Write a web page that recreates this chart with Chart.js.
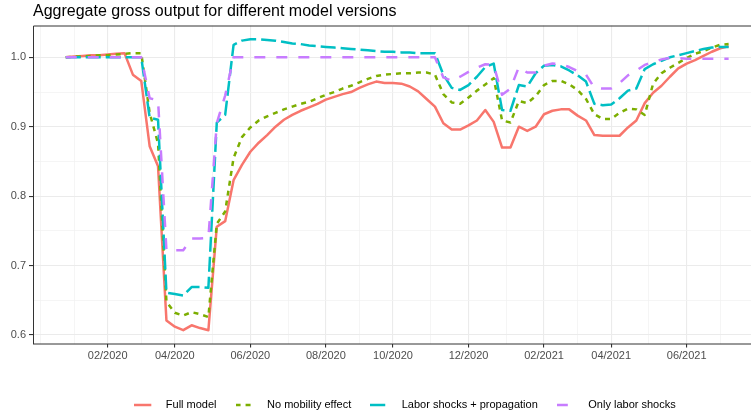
<!DOCTYPE html>
<html><head><meta charset="utf-8">
<script src="https://cdn.jsdelivr.net/npm/chart.js@4.4.1/dist/chart.umd.min.js"></script>
<style>html,body{margin:0;padding:0;background:#fff;overflow:hidden}#wrap{width:751px;height:417px;position:relative}</style>
</head><body><div id="wrap"><canvas id="c"></canvas></div>
<script>
// Weekly observation dates
const weeks = [
 '2020-01-02','2020-01-09','2020-01-16','2020-01-23','2020-01-30',
 '2020-02-06','2020-02-13','2020-02-20','2020-02-27','2020-03-05','2020-03-12','2020-03-19','2020-03-26',
 '2020-04-02','2020-04-09','2020-04-16','2020-04-23','2020-04-30','2020-05-07','2020-05-14','2020-05-21','2020-05-28',
 '2020-06-04','2020-06-11','2020-06-18','2020-06-25','2020-07-02','2020-07-09','2020-07-16','2020-07-23','2020-07-30',
 '2020-08-06','2020-08-13','2020-08-20','2020-08-27','2020-09-03','2020-09-10','2020-09-17','2020-09-24',
 '2020-10-01','2020-10-08','2020-10-15','2020-10-22','2020-10-29','2020-11-05','2020-11-12','2020-11-19','2020-11-26',
 '2020-12-03','2020-12-10','2020-12-17','2020-12-24','2020-12-31','2021-01-07','2021-01-14','2021-01-21','2021-01-28',
 '2021-02-04','2021-02-11','2021-02-18','2021-02-25','2021-03-04','2021-03-11','2021-03-18','2021-03-25',
 '2021-04-01','2021-04-08','2021-04-15','2021-04-22','2021-04-29','2021-05-06','2021-05-13','2021-05-20','2021-05-27',
 '2021-06-03','2021-06-10','2021-06-17','2021-06-24','2021-07-01','2021-07-08'
];
const fullModel = [
 1.000,1.001,1.002,1.003,1.003,
 1.004,1.005,1.006,0.975,0.966, 0.872,0.843,0.621,0.612,0.607,
 0.614,0.610,0.607,0.756,0.764, 0.823,0.845,0.864,0.877,0.888,
 0.900,0.910,0.917,0.923,0.928, 0.933,0.939,0.943,0.947,0.950,
 0.956,0.961,0.965,0.963,0.963, 0.962,0.958,0.951,0.940,0.929,
 0.905,0.896,0.896,0.902,0.909, 0.924,0.907,0.870,0.870,0.900,
 0.894,0.900,0.918,0.923,0.925, 0.925,0.916,0.909,0.888,0.887,
 0.887,0.887,0.899,0.909,0.934, 0.949,0.959,0.972,0.984,0.991,
 0.996,1.002,1.008,1.013,1.016
];
const noMobility = [
 1.000,1.001,1.001,1.002,1.003,
 1.003,1.004,1.005,1.006,1.006, 0.920,0.876,0.648,0.632,0.628,
 0.633,0.630,0.626,0.760,0.778, 0.855,0.885,0.899,0.909,0.915,
 0.920,0.925,0.929,0.933,0.936, 0.941,0.946,0.950,0.955,0.959,
 0.964,0.969,0.973,0.975,0.976, 0.977,0.977,0.978,0.978,0.975,
 0.947,0.935,0.933,0.942,0.952, 0.961,0.970,0.909,0.906,0.937,
 0.934,0.944,0.960,0.966,0.966, 0.961,0.953,0.940,0.918,0.911,
 0.911,0.920,0.926,0.925,0.917, 0.962,0.977,0.985,0.992,0.999,
 1.005,1.009,1.014,1.018,1.019
];
const laborProp = [
 1.000,1.000,1.000,1.000,1.000,
 1.000,1.000,1.000,1.000,1.000, 0.913,0.910,0.661,0.659,0.657,
 0.669,0.669,0.668,0.906,0.917, 1.018,1.024,1.026,1.026,1.025,
 1.024,1.022,1.020,1.019,1.017, 1.016,1.015,1.014,1.013,1.012,
 1.011,1.010,1.009,1.008,1.008, 1.007,1.007,1.006,1.006,1.006,
 0.975,0.956,0.953,0.960,0.972, 0.986,0.991,0.924,0.923,0.960,
 0.958,0.977,0.988,0.989,0.987, 0.981,0.974,0.965,0.933,0.931,
 0.932,0.941,0.952,0.955,0.983, 0.990,0.995,1.000,1.003,1.006,
 1.009,1.012,1.014,1.015,1.015
];
const onlyLabor = [
 1.000,1.000,1.000,1.000,1.000,
 1.000,1.000,1.000,1.000,1.000, 0.941,0.938,0.722,0.722,0.722,
 0.739,0.739,0.740,0.905,0.945, 1.000,1.000,1.000,1.000,1.000,
 1.000,1.000,1.000,1.000,1.000, 1.000,1.000,1.000,1.000,1.000,
 1.000,1.000,1.000,1.000,1.000, 1.000,1.000,1.000,1.000,1.000,
 0.971,0.966,0.972,0.979,0.985, 0.990,0.989,0.946,0.955,0.986,
 0.978,0.978,0.988,0.991,0.990, 0.986,0.980,0.975,0.956,0.955,
 0.955,0.963,0.974,0.981,0.989, 0.993,0.997,0.999,0.999,0.998,
 0.998,0.998,0.998,0.998,0.998
];
const seriesNames = ['Full model','No mobility effect','Labor shocks + propagation','Only labor shocks'];
const tickDates = ['2020-02-06','2020-04-02','2020-06-04','2020-08-06','2020-10-01','2020-12-03','2021-02-04','2021-04-01','2021-06-03'];
const tickLabels = ['02/2020','04/2020','06/2020','08/2020','10/2020','12/2020','02/2021','04/2021','06/2021'];
const yMajor = [0.6,0.7,0.8,0.9,1.0];
const yMinor = [0.65,0.75,0.85,0.95];

// ---- derived structures ----
const toPts = arr => arr.map((v,i)=>({x:i,y:v}));
const majorIdx = tickDates.map(d=>weeks.indexOf(d));
const labelMap = {}; majorIdx.forEach((ix,j)=>labelMap[ix]=tickLabels[j]);
const minorIdx = [];
const step0 = majorIdx[1]-majorIdx[0];
minorIdx.push(majorIdx[0]-step0, majorIdx[0]-step0/2);
for(let j=0;j<majorIdx.length-1;j++) minorIdx.push((majorIdx[j]+majorIdx[j+1])/2);
minorIdx.push(majorIdx[majorIdx.length-1]+4);
const isMajorX = v => labelMap[v]!==undefined;
const isMajorY = v => yMajor.some(m=>Math.abs(m-v)<1e-9);

const PXW = 8.391;            // px per week in the reference
const X_MIN = majorIdx[0] - (107.7-33)/PXW;
const X_MAX = majorIdx[0] + (751-107.7)/PXW;

const colors = ['#F8766D','#7CAE00','#00BFC4','#C77CFF'];
const dashes = [[],[5,5],[15,5],[11,11]];
const dataArrs = [fullModel,noMobility,laborProp,onlyLabor];

// legend key swatches (line sample + empty spacing, like ggplot keys)
function makeSwatch(color, dash){
  const cv = document.createElement('canvas'); cv.width = 26; cv.height = 6;
  const g = cv.getContext('2d');
  g.strokeStyle = color; g.lineWidth = 2.5; g.lineCap = 'butt'; g.setLineDash(dash);
  g.beginPath(); g.moveTo(0,3); g.lineTo(17,3); g.stroke();
  return cv;
}
const swatches = colors.map((c,i)=>makeSwatch(c,dashes[i]));

const LEGEND_DX = 29.5, LEGEND_DY = 3.5;
const framePlugin = {
  id:'frame',
  afterLayout(chart){
    const a = chart.chartArea;
    const t = chart.titleBlock;
    if(t){ const w=t.right-t.left; t.left=a.left; t.right=a.left+w; }
    const l = chart.legend;
    if(l){ l.left+=LEGEND_DX; l.right+=LEGEND_DX; l.top+=LEGEND_DY; l.bottom+=LEGEND_DY; }
  },
  afterDatasetsDraw(chart){
    const a = chart.chartArea, c = chart.ctx;
    c.save(); c.strokeStyle='#333333'; c.lineWidth=1;
    c.beginPath();
    c.moveTo(a.left+0.5, a.bottom+0.5); c.lineTo(a.left+0.5, a.top+0.5); c.lineTo(a.right+2, a.top+0.5);
    c.moveTo(a.left, a.bottom+0.5); c.lineTo(a.right+2, a.bottom+0.5);
    c.stroke(); c.restore();
  }
};

const FONT = '"Liberation Sans", Arial, sans-serif';
new Chart(document.getElementById('c'), {
  type:'line',
  data:{
    datasets: seriesNames.map((n,i)=>({
      label:n, data:toPts(dataArrs[i]), borderColor:colors[i], backgroundColor:colors[i],
      borderWidth:2.5, borderDash:dashes[i], borderCapStyle:'butt', borderJoinStyle:'round',
      pointRadius:0, tension:0, fill:false, order:4-i
    }))
  },
  options:{
    responsive:true, maintainAspectRatio:false, animation:false,
    devicePixelRatio:1,
    layout:{padding:0},
    plugins:{
      title:{display:true, text:'Aggregate gross output for different model versions', align:'start',
        color:'#000', font:{family:FONT, size:16, weight:'normal'},
        padding:{top:1.5,bottom:4.8}},
      legend:{position:'bottom', align:'center',
        labels:{usePointStyle:true, pointStyleWidth:26, boxHeight:11, padding:19,
          color:'#000', font:{family:FONT, size:11},
          generateLabels(chart){
            const items = Chart.defaults.plugins.legend.labels.generateLabels(chart);
            items.forEach(it=>{ it.pointStyle = swatches[it.datasetIndex]; });
            return items;
          },
          sort:(a,b)=>a.datasetIndex-b.datasetIndex}},
      tooltip:{enabled:false}
    },
    scales:{
      x:{type:'linear', min:X_MIN, max:X_MAX,
        afterBuildTicks(s){ s.ticks = majorIdx.concat(minorIdx).filter(v=>v>=X_MIN&&v<=X_MAX).sort((a,b)=>a-b).map(v=>({value:v})); },
        afterFit(s){ s.height = 33.5; },
        ticks:{autoSkip:false, maxRotation:0, padding:2, color:'#4D4D4D',
          font:{family:FONT, size:11},
          callback:(v)=> labelMap[v]!==undefined ? labelMap[v] : ''},
        grid:{color:c=> c.tick && isMajorX(c.tick.value) ? '#EBEBEB' : '#F2F2F2',
          lineWidth:c=> c.tick && isMajorX(c.tick.value) ? 1.1 : 0.8,
          tickColor:c=> c.tick && isMajorX(c.tick.value) ? '#333333' : 'rgba(0,0,0,0)',
          tickLength:4, drawTicks:true},
        border:{display:false}
      },
      y:{type:'linear', min:0.5878, max:1.0458,
        afterBuildTicks(s){ s.ticks = yMajor.concat(yMinor).sort((a,b)=>a-b).map(v=>({value:v})); },
        afterFit(s){ s.width = 33; },
        ticks:{padding:3, color:'#4D4D4D', font:{family:FONT, size:11},
          callback:(v)=> isMajorY(v) ? v.toFixed(1) : ''},
        grid:{color:c=> c.tick && isMajorY(c.tick.value) ? '#EBEBEB' : '#F2F2F2',
          lineWidth:c=> c.tick && isMajorY(c.tick.value) ? 1.1 : 0.8,
          tickColor:c=> c.tick && isMajorY(c.tick.value) ? '#333333' : 'rgba(0,0,0,0)',
          tickLength:4, drawTicks:true},
        border:{display:false}
      }
    }
  },
  plugins:[framePlugin]
});
</script></body></html>
